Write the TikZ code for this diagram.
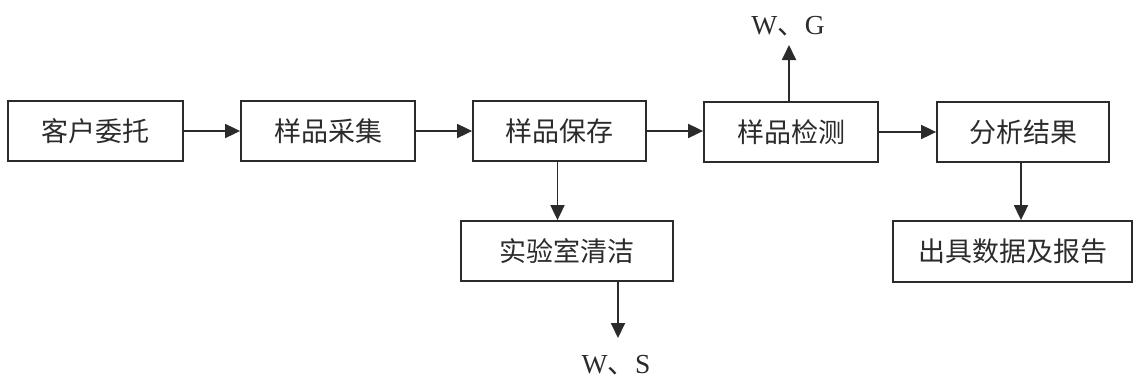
\documentclass[tikz,border=0pt]{standalone}
\usepackage{fontspec}
\setmainfont{Liberation Serif}
\newfontfamily\cjk{Noto Sans CJK SC}
\usetikzlibrary{arrows.meta}
\definecolor{ink}{HTML}{2B2B2B}
\tikzset{
  box/.style={draw=ink, line width=1.8pt, text=ink, font=\cjk\fontsize{27}{32}\selectfont, inner sep=0pt, minimum height=60pt},
  arr/.style={draw=ink, line width=1.8pt, -{Triangle[length=15pt,width=14pt]}},
  lbl/.style={text=ink, font=\fontsize{27.5}{32}\selectfont, inner sep=0pt}
}
\begin{document}
\begin{tikzpicture}[x=1pt,y=-1pt]
\useasboundingbox[fill=white] (0,0) rectangle (1136,381);
\node[box, minimum width=175pt] (kh) at (95.5,131) {客户委托};
\node[box, minimum width=174pt] (cj) at (328,131) {样品采集};
\node[box, minimum width=173pt] (bc) at (559.5,131) {样品保存};
\node[box, minimum width=174pt] (jc) at (791,132) {样品检测};
\node[box, minimum width=172pt] (fx) at (1023,132) {分析结果};
\node[box, minimum width=212pt] (qj) at (567,251) {实验室清洁};
\node[box, minimum width=239pt, minimum height=61pt] (bg) at (1012.5,251.5) {出具数据及报告};
\node[lbl] (wg) at (788,26) {W{\cjk 、}G};
\node[lbl] (ws) at (616,365) {W{\cjk 、}S};
\coordinate (wgend) at (789,45);
\coordinate (wsend) at (618,338);
\draw[arr] (kh.east) -- (cj.west);
\draw[arr] (cj.east) -- (cj.east -| bc.west);
\draw[arr] (bc.east) -- (bc.east -| jc.west);
\draw[arr] (jc.east |- fx.west) -- (fx.west);
\draw[arr] (wgend |- jc.north) -- (wgend);
\draw[arr] ([xshift=-2pt]bc.south) -- ([xshift=-2pt]bc.south |- qj.north);
\draw[arr] (wsend |- qj.south) -- (wsend);
\draw[arr] ([xshift=-2pt]fx.south) -- ([xshift=-2pt]fx.south |- bg.north);
\end{tikzpicture}
\end{document}
